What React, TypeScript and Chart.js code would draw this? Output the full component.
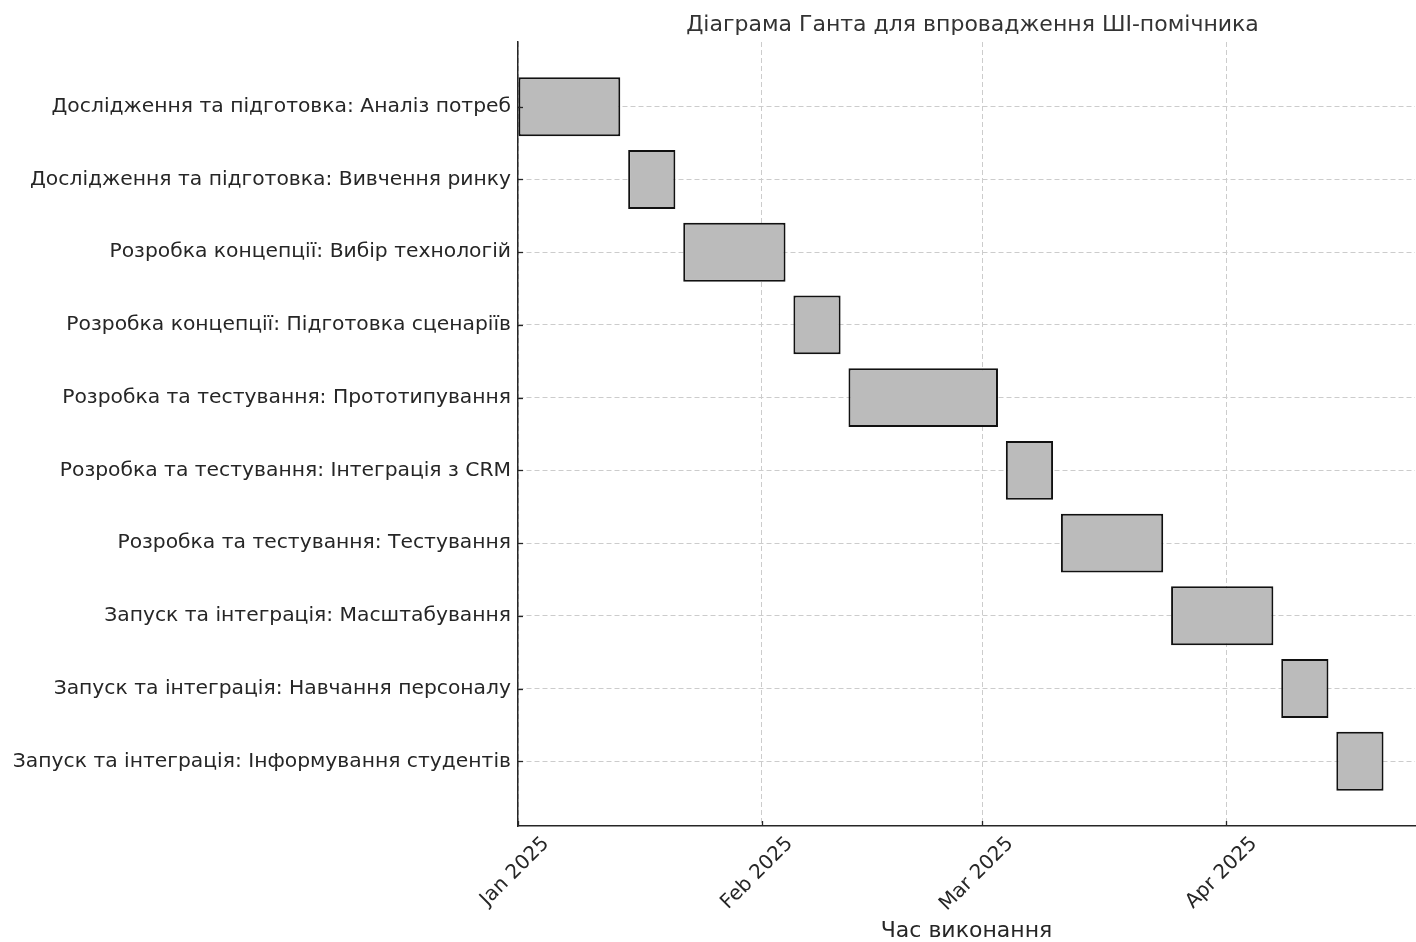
import { useEffect, useRef } from 'react';
import { Chart, registerables } from 'chart.js';

Chart.register(...registerables);

const chartTitle = 'Діаграма Ганта для впровадження ШІ-помічника';
const xAxisTitle = 'Час виконання';

const taskLabels = [
  'Дослідження та підготовка: Аналіз потреб',
  'Дослідження та підготовка: Вивчення ринку',
  'Розробка концепції: Вибір технологій',
  'Розробка концепції: Підготовка сценаріїв',
  'Розробка та тестування: Прототипування',
  'Розробка та тестування: Інтеграція з CRM',
  'Розробка та тестування: Тестування',
  'Запуск та інтеграція: Масштабування',
  'Запуск та інтеграція: Навчання персоналу',
  'Запуск та інтеграція: Інформування студентів',
];

const taskStarts = [
  '2025-01-01', '2025-01-15', '2025-01-22', '2025-02-05', '2025-02-12',
  '2025-03-04', '2025-03-11', '2025-03-25', '2025-04-08', '2025-04-15',
];

const taskEnds = [
  '2025-01-14', '2025-01-21', '2025-02-04', '2025-02-11', '2025-03-03',
  '2025-03-10', '2025-03-24', '2025-04-07', '2025-04-14', '2025-04-21',
];

const xTickDates = ['2025-01-01', '2025-02-01', '2025-03-01', '2025-04-01'];
const xTickLabels = ['Jan 2025', 'Feb 2025', 'Mar 2025', 'Apr 2025'];

const axisStart = '2025-01-01';
const axisEnd = '2025-04-25';

const FONT = '"DejaVu Sans", "Liberation Sans", sans-serif';
const TEXT = '#262626';

const dayOf = (s: string) => (Date.parse(s) - Date.parse(axisStart)) / 86400000;

const decorPlugin = {
  id: 'decor',
  afterDatasetsDraw(chart: any) {
    const { ctx, chartArea, scales } = chart;
    ctx.save();
    ctx.strokeStyle = TEXT;
    ctx.lineWidth = 1.3;
    ctx.setLineDash([]);
    scales.y.ticks.forEach((t: any) => {
      const py = Math.round(scales.y.getPixelForValue(t.value)) + 0.5;
      ctx.beginPath();
      ctx.moveTo(chartArea.left, py);
      ctx.lineTo(chartArea.left + 5, py);
      ctx.stroke();
    });
    scales.x.ticks.forEach((t: any) => {
      const px = Math.round(scales.x.getPixelForValue(t.value)) + 0.5;
      ctx.beginPath();
      ctx.moveTo(px, chartArea.bottom);
      ctx.lineTo(px, chartArea.bottom - 5);
      ctx.stroke();
    });
    ctx.restore();
  },
  afterDraw(chart: any) {
    const { ctx, chartArea } = chart;
    ctx.save();
    ctx.font = `22px ${FONT}`;
    ctx.fillStyle = '#333333';
    ctx.textAlign = 'center';
    ctx.textBaseline = 'alphabetic';
    ctx.fillText(chartTitle, (chartArea.left + chartArea.right) / 2 + 6, 31);
    ctx.restore();
  },
};

export default function App() {
  const canvasRef = useRef<HTMLCanvasElement | null>(null);

  useEffect(() => {
    document.body.style.margin = '0';
    document.body.style.overflow = 'hidden';
    const canvas = canvasRef.current;
    if (!canvas) return;

    const chart = new Chart(canvas, {
      type: 'bar',
      data: {
        datasets: [
          {
            data: taskStarts.map((s, i) => ({ x: [dayOf(s), dayOf(taskEnds[i])], y: i })) as any,
            backgroundColor: '#bbbbbb',
            borderColor: '#111111',
            borderWidth: 2,
            borderSkipped: false,
            categoryPercentage: 0.81,
            barPercentage: 1,
          },
        ],
      },
      options: {
        indexAxis: 'y',
        responsive: false,
        animation: false,
        events: [],
        layout: { padding: { top: 42, right: 1, left: 0, bottom: 0 } },
        plugins: {
          legend: { display: false },
          tooltip: { enabled: false },
          title: { display: false },
        },
        scales: {
          x: {
            type: 'linear',
            position: 'bottom',
            offset: false,
            min: dayOf(axisStart),
            max: dayOf(axisEnd),
            afterBuildTicks: (s: any) => {
              s.ticks = xTickDates.map((d) => ({ value: dayOf(d) }));
            },
            afterFit: (s: any) => {
              s.height = 116;
            },
            ticks: {
              autoSkip: false,
              minRotation: 45,
              maxRotation: 45,
              labelOffset: 28,
              padding: 6,
              color: TEXT,
              font: { family: FONT, size: 20 },
              callback: (_v: any, i: number) => xTickLabels[i],
            },
            grid: { color: '#cccccc', lineWidth: 1, drawTicks: false, offset: false },
            border: { display: true, color: TEXT, width: 1.5, dash: [5, 3] },
            title: {
              display: true,
              text: xAxisTitle,
              color: TEXT,
              font: { family: FONT, size: 22 },
              padding: { top: 0, bottom: -2 },
            },
          },
          y: {
            type: 'linear',
            reverse: true,
            offset: false,
            min: -0.89,
            max: 9.89,
            afterBuildTicks: (s: any) => {
              s.ticks = taskLabels.map((_, i) => ({ value: i }));
            },
            afterFit: (s: any) => {
              s.width = 518;
            },
            ticks: {
              autoSkip: false,
              padding: 7,
              color: TEXT,
              font: { family: FONT, size: 20.3 },
              callback: (v: any) => taskLabels[Math.round(Number(v))] ?? '',
            },
            grid: { color: '#cccccc', lineWidth: 1, drawTicks: false, offset: false },
            border: { display: true, color: TEXT, width: 1.5, dash: [5, 3] },
          },
        },
      },
      plugins: [decorPlugin],
    } as any);

    return () => chart.destroy();
  }, []);

  return (
    <div style={{ width: 1416, height: 942 }}>
      <canvas ref={canvasRef} width={1416} height={942} style={{ width: 1416, height: 942, display: 'block' }} />
    </div>
  );
}
